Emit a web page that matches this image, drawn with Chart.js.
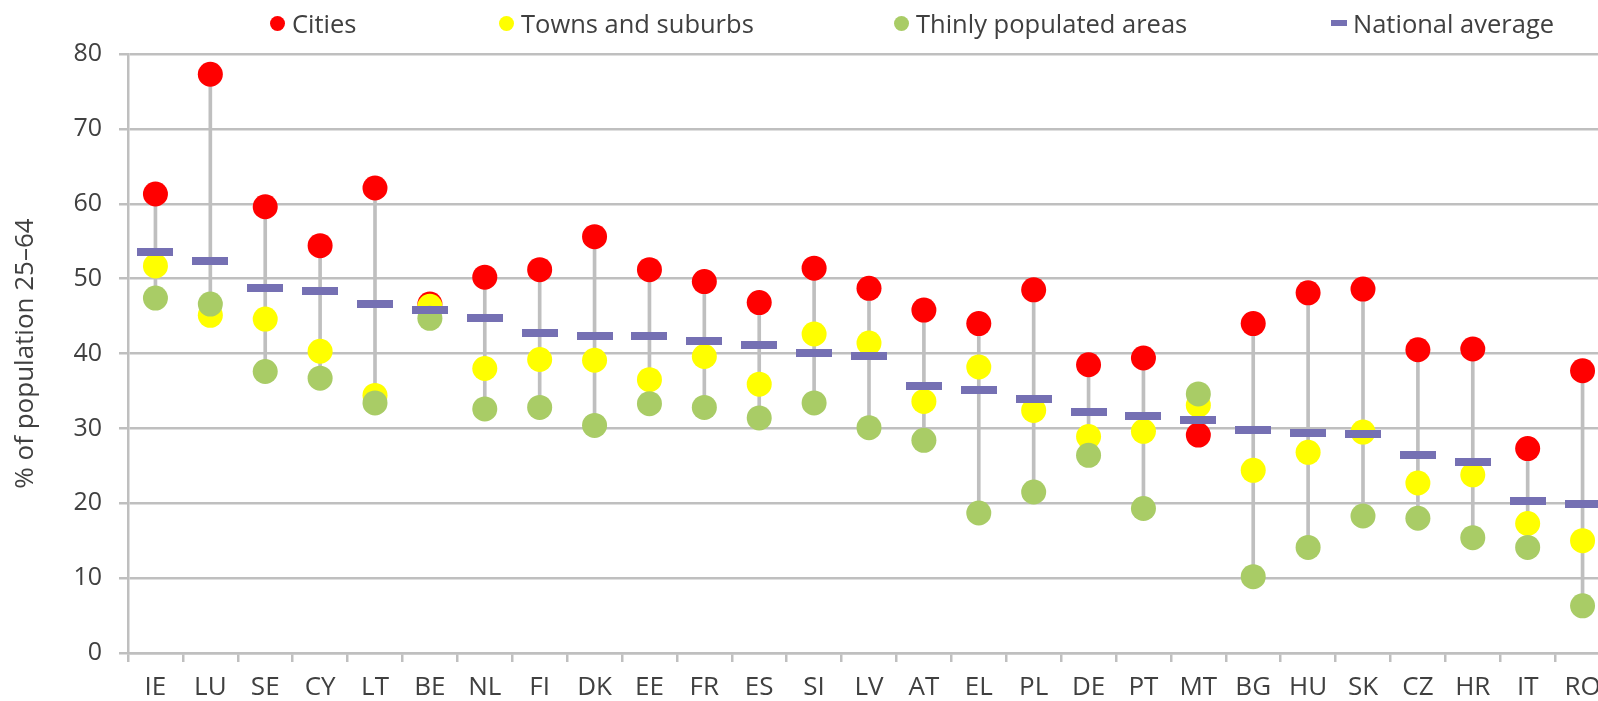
<!DOCTYPE html>
<html>
<head>
<meta charset="utf-8">
<script src="https://cdn.jsdelivr.net/npm/chart.js@4"></script>
<style>
  html, body { margin: 0; padding: 0; background: #fff; overflow: hidden; }
  #wrap { position: relative; width: 1598px; height: 701px; overflow: hidden; }
  #chart { position: absolute; left: 0; top: 0; }
  .leg { position: absolute; top: 5px; font-family: "Open Sans", sans-serif; font-size: 25.5px; line-height: 36px; color: #404040; white-space: nowrap; }
  .dot { position: absolute; width: 15px; height: 15px; border-radius: 50%; top: 16px; }
  .bar { position: absolute; width: 16px; height: 6px; top: 20px; background: #7570B3; }
</style>
</head>
<body>
<div id="wrap">
  <canvas id="chart" width="1629" height="701"></canvas>
  <span class="dot" style="left:270px; background:#FF0000"></span>
  <span class="leg" style="left:292px">Cities</span>
  <span class="dot" style="left:499px; background:#FFFF00"></span>
  <span class="leg" style="left:521px">Towns and suburbs</span>
  <span class="dot" style="left:894px; background:#A9CC66"></span>
  <span class="leg" style="left:916px">Thinly populated areas</span>
  <span class="bar" style="left:1331px"></span>
  <span class="leg" style="left:1353px">National average</span>
</div>
<script>
const countries = ['IE', 'LU', 'SE', 'CY', 'LT', 'BE', 'NL', 'FI', 'DK', 'EE', 'FR', 'ES', 'SI', 'LV',
  'AT', 'EL', 'PL', 'DE', 'PT', 'MT', 'BG', 'HU', 'SK', 'CZ', 'HR', 'IT', 'RO'];
const cities = [61.3, 77.3, 59.6, 54.4, 62.1, 46.6, 50.2, 51.2, 55.6, 51.2, 49.6, 46.8, 51.4, 48.7,
  45.8, 44.0, 48.5, 38.5, 39.4, 29.1, 44.0, 48.1, 48.6, 40.5, 40.6, 27.3, 37.7];
const towns = [51.7, 45.1, 44.6, 40.3, 34.4, 46.3, 38.0, 39.2, 39.1, 36.5, 39.6, 35.9, 42.6, 41.4,
  33.6, 38.2, 32.4, 28.9, 29.6, 33.1, 24.4, 26.8, 29.5, 22.7, 23.8, 17.3, 15.0];
const thinly = [47.4, 46.6, 37.6, 36.7, 33.4, 44.7, 32.6, 32.8, 30.4, 33.3, 32.8, 31.4, 33.4, 30.1,
  28.4, 18.7, 21.5, 26.4, 19.3, 34.6, 10.2, 14.1, 18.3, 18.0, 15.4, 14.1, 6.3];
const national = [53.5, 52.4, 48.7, 48.3, 46.6, 45.8, 44.8, 42.7, 42.3, 42.3, 41.7, 41.1, 40.1, 39.6,
  35.6, 35.1, 33.9, 32.2, 31.6, 31.1, 29.8, 29.4, 29.2, 26.5, 25.5, 20.3, 19.9];

const textColour = '#404040';
const gridColour = '#BFBFBF';
const font = 'Open Sans';

// grey stem from lowest to highest dot of each country
const ranges = countries.map((c, i) => {
  const v = [cities[i], towns[i], thinly[i]];
  return [Math.min(...v), Math.max(...v)];
});

// dash marker for the national average
const dash = document.createElement('canvas');
dash.width = 36;
dash.height = 8;
const dctx = dash.getContext('2d');
dctx.fillStyle = '#7570B3';
dctx.fillRect(0, 0, 36, 8);

function dots(label, values, colour, order) {
  return {
    type: 'line', label: label, data: values, showLine: false, order: order,
    borderColor: colour, backgroundColor: colour,
    pointBackgroundColor: colour, pointBorderWidth: 0,
    pointRadius: 12.5, pointHoverRadius: 12.5
  };
}

new Chart(document.getElementById('chart'), {
  type: 'bar',
  data: {
    labels: countries,
    datasets: [
      { type: 'line', label: 'National average', data: national, showLine: false, order: 0,
        pointStyle: dash, pointRadius: 18, pointHoverRadius: 18 },
      dots('Thinly populated areas', thinly, '#A9CC66', 1),
      dots('Towns and suburbs', towns, '#FFFF00', 2),
      dots('Cities', cities, '#FF0000', 3),
      { type: 'bar', label: 'range', data: ranges, backgroundColor: gridColour, barThickness: 3, order: 4 }
    ]
  },
  options: {
    responsive: false,
    animation: false,
    devicePixelRatio: 1,
    events: [],
    layout: { padding: { top: 54, right: 2, left: 0, bottom: 0 } },
    plugins: { legend: { display: false }, tooltip: { enabled: false } },
    scales: {
      x: {
        grid: { drawOnChartArea: false, tickLength: 9, color: gridColour, lineWidth: 2.5 },
        border: { color: gridColour, width: 2.5 },
        ticks: { font: { family: font, size: 26 }, color: textColour, padding: 10, maxRotation: 0, autoSkip: false },
        afterFit: s => { s.height = 48; }
      },
      y: {
        min: 0, max: 80,
        ticks: { stepSize: 10, font: { family: font, size: 25 }, color: textColour, padding: 17 },
        grid: { color: gridColour, lineWidth: 2.5, tickLength: 9 },
        border: { color: gridColour, width: 2.5 },
        title: { display: true, text: '% of population 25–64', font: { family: font, size: 26 },
          color: textColour, padding: { top: 10, bottom: 0 } },
        afterFit: s => { s.width = 128; }
      }
    }
  }
});
</script>
</body>
</html>
